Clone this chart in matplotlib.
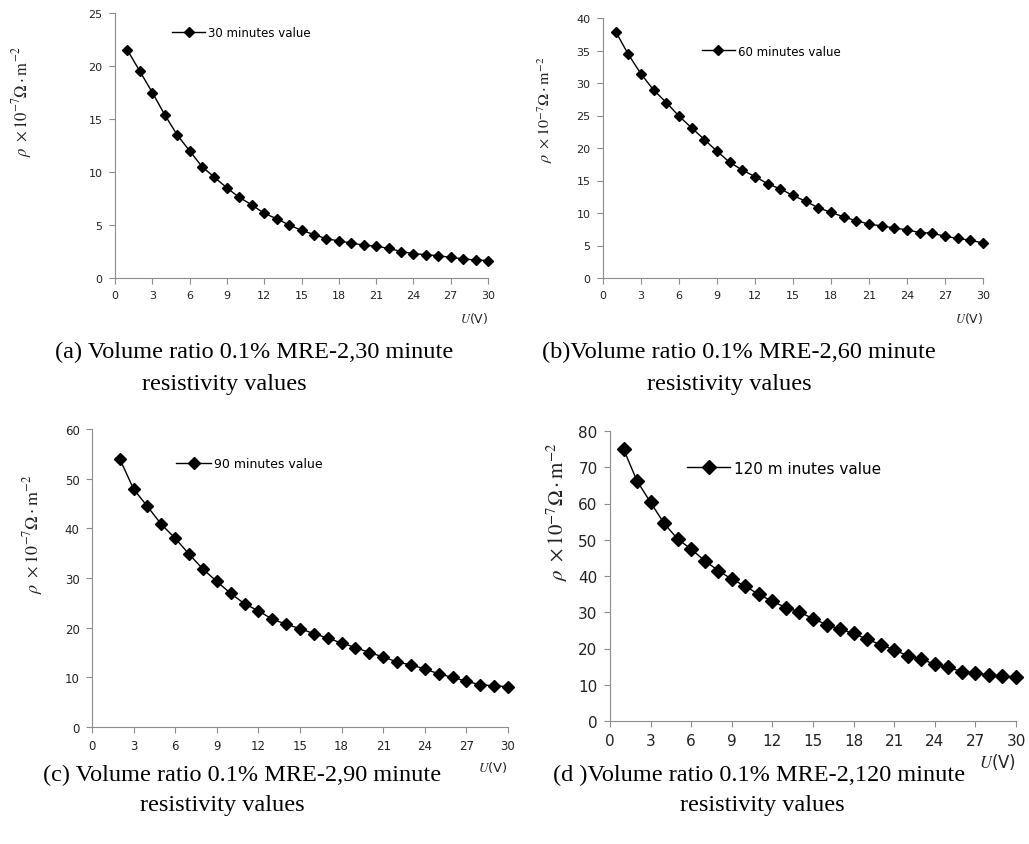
import matplotlib
matplotlib.use('Agg')
import matplotlib.pyplot as plt

plt.rcParams['font.family'] = 'DejaVu Sans'
plt.rcParams['mathtext.fontset'] = 'stix'

# voltage steps
u_a = list(range(1, 31))
u_b = list(range(1, 31))
u_c = list(range(2, 31))
u_d = list(range(1, 31))

# resistivity values
rho_30 = [21.5, 19.5, 17.5, 15.4, 13.5, 12.0, 10.5, 9.5, 8.5, 7.6,
          6.9, 6.1, 5.6, 5.0, 4.5, 4.1, 3.7, 3.5, 3.3, 3.1,
          3.0, 2.8, 2.5, 2.3, 2.2, 2.1, 1.95, 1.8, 1.7, 1.65]
rho_60 = [37.9, 34.4, 31.4, 28.9, 27.0, 24.9, 23.1, 21.3, 19.5, 17.8,
          16.6, 15.6, 14.5, 13.7, 12.7, 11.8, 10.8, 10.1, 9.4, 8.8,
          8.3, 8.0, 7.7, 7.4, 7.0, 6.9, 6.4, 6.1, 5.8, 5.4]
rho_90 = [54.0, 47.9, 44.4, 40.8, 38.0, 34.8, 31.8, 29.3, 26.9, 24.8,
          23.4, 21.7, 20.7, 19.8, 18.8, 17.9, 16.9, 16.0, 15.0, 14.1,
          13.1, 12.5, 11.7, 10.7, 10.0, 9.2, 8.5, 8.3, 8.1]
rho_120 = [75.0, 66.2, 60.3, 54.5, 50.2, 47.4, 44.2, 41.5, 39.1, 37.2,
           34.9, 33.0, 31.3, 30.1, 28.2, 26.6, 25.3, 24.2, 22.5, 21.1,
           19.6, 18.0, 17.1, 15.6, 14.8, 13.6, 13.2, 12.7, 12.4, 12.1]

legend_names = ['30 minutes value', '60 minutes value', '90 minutes value', '120 m inutes value']
y_maxes = [25, 40, 60, 80]
y_steps = [5, 5, 10, 10]
x_ticks = list(range(0, 31, 3))

captions = [('(a) Volume ratio 0.1% MRE-2,30 minute', 'resistivity values'),
            ('(b)Volume ratio 0.1% MRE-2,60 minute', 'resistivity values'),
            ('(c) Volume ratio 0.1% MRE-2,90 minute', 'resistivity values'),
            ('(d )Volume ratio 0.1% MRE-2,120 minute', 'resistivity values')]

W, H = 1029, 845
fig = plt.figure(figsize=(W / 100, H / 100), dpi=100)

def px_axes(l, t, r, b):
    return fig.add_axes([l / W, 1 - b / H, (r - l) / W, (b - t) / H])

# pixel boxes of each panel: left, top, right, bottom
boxes = [(115, 14, 488, 279), (603, 19, 983, 279), (92, 430, 508, 728), (610, 432, 1016, 722)]
leg_pos = [(0.153, 0.925), (0.26, 0.873), (0.202, 0.883), (0.19, 0.872)]
tick_fs = [8, 8, 8.5, 11]
leg_fs = [8.5, 8.5, 9, 11]
ylab_fs = [12, 11.5, 13, 15]
ylab_xy = [(22, 102), (545, 110), (33, 534), (557, 512)]
msize = [5.5, 5.5, 6, 7]
cap_pos = [((55, 352), (142, 385)), ((542, 352), (647, 385)),
           ((43, 775), (140, 806)), ((553, 775), (680, 806))]

xs = [u_a, u_b, u_c, u_d]
ys = [rho_30, rho_60, rho_90, rho_120]
grey = '#8c8c8c'

for i in range(4):
    ax = px_axes(*boxes[i])
    ax.plot(xs[i], ys[i], color='black', lw=1.0, marker='D', ms=msize[i],
            label=legend_names[i], clip_on=False)
    ax.set_xlim(0, 30)
    ax.set_ylim(0, y_maxes[i])
    ax.set_xticks(x_ticks)
    ax.set_yticks(range(0, y_maxes[i] + 1, y_steps[i]))
    for s in ['top', 'right']:
        ax.spines[s].set_visible(False)
    for s in ['left', 'bottom']:
        ax.spines[s].set_color(grey)
    ax.tick_params(colors=grey, labelcolor='#222222', labelsize=tick_fs[i],
                   length=4, width=0.8, pad=5)
    ax.legend(frameon=False, loc='center left', bbox_to_anchor=leg_pos[i],
              borderpad=0, borderaxespad=0, handlelength=2.8, handletextpad=0.25,
              fontsize=leg_fs[i])
    l, t, r, b = boxes[i]
    lx, ly = ylab_xy[i]
    fig.text(lx / W, 1 - ly / H,
             r'$\rho\ \times 10^{-7}\Omega\cdot\mathrm{m}^{-2}$',
             rotation=90, ha='center', va='center', fontsize=ylab_fs[i], color='#222222')
    fig.text(r / W, 1 - (b + 40) / H, r'$\mathit{U}$(V)', ha='right', va='center',
             fontsize=tick_fs[i] + 1, color='#222222')
    (x1, y1), (x2, y2) = cap_pos[i]
    fig.text(x1 / W, 1 - y1 / H, captions[i][0], family='Liberation Serif',
             fontsize=17.5, ha='left', va='center')
    fig.text(x2 / W, 1 - y2 / H, captions[i][1], family='Liberation Serif',
             fontsize=17.5, ha='left', va='center')

fig.savefig('out.png', dpi=100)
